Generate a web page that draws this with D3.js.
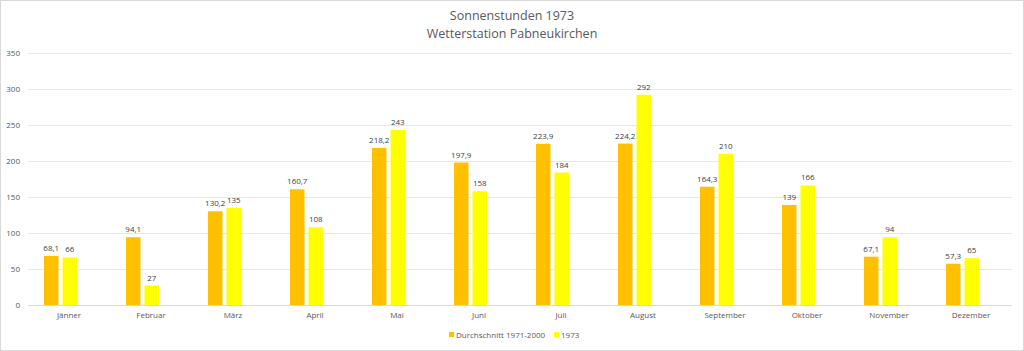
<!DOCTYPE html>
<html>
<head>
    <meta charset="utf-8">
    <title>Sonnenstunden 1973</title>
    <script src="https://cdn.jsdelivr.net/npm/d3@7"></script>
    <style>
        body { margin: 0; background: #fff; }
        text { font-family: 'Open Sans', 'Liberation Sans', sans-serif; }
    </style>
</head>
<body>
    <svg width="1024" height="351" id="mainsvg"></svg>
    <script>
        const months = ['Jänner', 'Februar', 'März', 'April', 'Mai', 'Juni', 'Juli', 'August', 'September', 'Oktober', 'November', 'Dezember'];
        const durchschnitt = [68.1, 94.1, 130.2, 160.7, 218.2, 197.9, 223.9, 224.2, 164.3, 139, 67.1, 57.3];
        const jahr1973 = [66, 27, 135, 108, 243, 158, 184, 292, 210, 166, 94, 65];
        const seriesNames = ['Durchschnitt 1971-2000', '1973'];
        const yTicks = [0, 50, 100, 150, 200, 250, 300, 350];

        const svg = d3.select('svg');
        const width = +svg.attr('width');
        const height = +svg.attr('height');
        const colors = ['#FFC000', '#FFFF00'];

        // frame
        svg.append('rect').attr('x', 0.5).attr('y', 0.5)
            .attr('width', width - 1).attr('height', height - 1)
            .attr('fill', '#fff').attr('stroke', '#d9d9d9');

        const x = d3.scaleBand().domain(months).range([28, 1012]);
        const y = d3.scaleLinear().domain([0, 350]).range([305, 53]);

        // title
        svg.append('text').attr('x', 512).attr('y', 20).attr('text-anchor', 'middle')
            .attr('font-size', 12.5).attr('fill', '#595959').text('Sonnenstunden 1973');
        svg.append('text').attr('x', 512).attr('y', 38).attr('text-anchor', 'middle')
            .attr('font-size', 12.5).attr('fill', '#595959').text('Wetterstation Pabneukirchen');

        // grid + y axis
        const yAxis = d3.axisLeft(y).tickValues(yTicks).tickSize(-(1012 - 28)).tickPadding(8);
        const gy = svg.append('g').attr('transform', 'translate(28,0)').call(yAxis);
        gy.select('.domain').remove();
        gy.selectAll('.tick line').attr('stroke', '#e6e6e6');
        gy.selectAll('.tick text').attr('fill', '#595959').attr('font-size', 8);
        gy.selectAll('.tick').filter(d => d === 0).select('line').attr('stroke', '#d9d9d9');

        // x axis labels
        const xAxis = d3.axisBottom(x).tickSize(0).tickPadding(7);
        const gx = svg.append('g').attr('transform', 'translate(0,305)').call(xAxis);
        gx.select('.domain').remove();
        gx.selectAll('.tick text').attr('fill', '#595959').attr('font-size', 8);

        // bars, slightly left of the category centre like in the original
        const barW = 14.5, gap = 4, shift = -8.5;
        const inner = d3.scaleBand().domain([0, 1]).range([0, barW * 2 + gap]).paddingInner(gap / (barW + gap));
        const groups = months.map((m, i) => ({ month: m, values: [durchschnitt[i], jahr1973[i]] }));

        const g = svg.selectAll('.grp').data(groups).join('g')
            .attr('class', 'grp')
            .attr('transform', d => `translate(${x(d.month) + x.bandwidth() / 2 + shift - (barW * 2 + gap) / 2},0)`);

        g.selectAll('rect').data(d => d.values).join('rect')
            .attr('x', (d, i) => inner(i))
            .attr('width', inner.bandwidth())
            .attr('y', d => y(d))
            .attr('height', d => y(0) - y(d))
            .attr('fill', (d, i) => colors[i]);

        g.selectAll('.lbl').data(d => d.values).join('text')
            .attr('class', 'lbl')
            .attr('x', (d, i) => inner(i) + inner.bandwidth() / 2)
            .attr('y', d => y(d) - 5)
            .attr('text-anchor', 'middle')
            .attr('font-size', 8).attr('fill', '#404040')
            .text(d => String(d).replace('.', ','));

        // legend
        const legendX = [449, 554];
        const lg = svg.selectAll('.leg').data(seriesNames).join('g')
            .attr('class', 'leg')
            .attr('transform', (d, i) => `translate(${legendX[i]},337)`);
        lg.append('rect').attr('x', 0).attr('y', -5).attr('width', 5).attr('height', 5)
            .attr('fill', (d, i) => colors[i]);
        lg.append('text').attr('x', 7).attr('y', 0.5).attr('font-size', 8).attr('fill', '#595959')
            .text(d => d);
    </script>
</body>
</html>
